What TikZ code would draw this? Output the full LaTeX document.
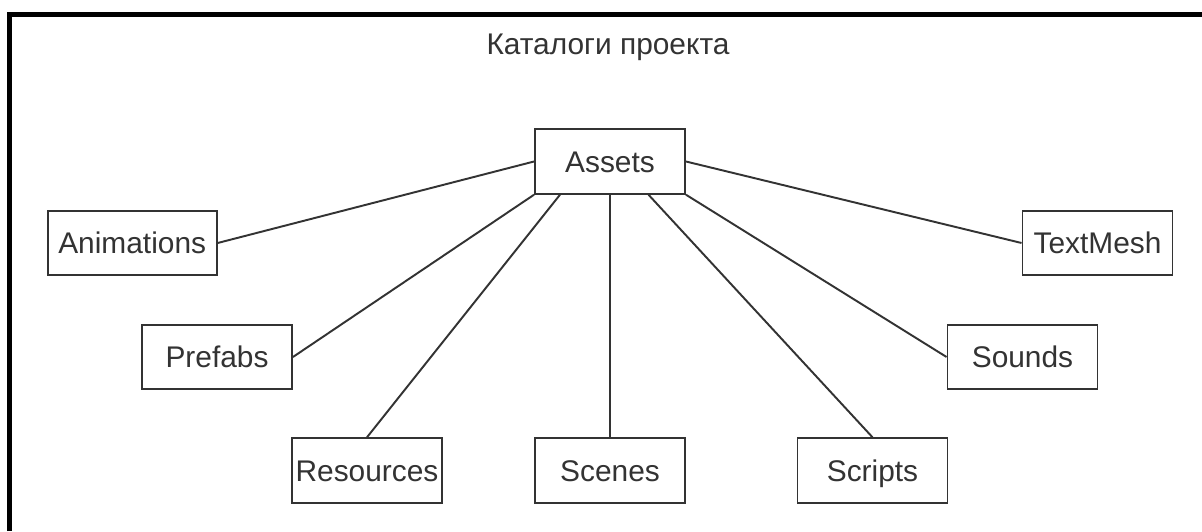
\documentclass[tikz,border=0pt]{standalone}
\usepackage{fontspec}
\setmainfont{Liberation Sans}
\usepackage[x11names, svgnames, rgb]{xcolor}
\usepackage{tikz}
\usetikzlibrary{positioning,shapes,arrows.meta}
\definecolor{mygray}{gray}{0.2}
\tikzstyle{folder}=[rectangle,fill=white,draw=mygray,line width=1.1pt,minimum width=3cm,minimum height=1.29cm,inner sep=0pt,text=mygray,text height=14pt,text depth=1.8pt,font=\fontsize{17}{20}\selectfont]
\tikzstyle{link}=[draw=mygray,line width=1.1pt]
\begin{document}
\begin{tikzpicture}
		\useasboundingbox (0,0) rectangle (24.04,10.62);
		% frame
		\draw[line width=2.6pt] (0.19,0) |- (24.04,10.33);

		% title
		\node[text=mygray,font=\fontsize{17}{20}\selectfont] (title) at (12.16,9.68) {Каталоги проекта};

		% nodes
		\node[folder] (assets) at (12.2,7.39) {Assets};
		\node[folder,minimum width=3.38cm] (animations) at (2.644,5.76) {Animations};
		\node[folder] (textmesh) at (21.95,5.76) {TextMesh};
		\node[folder] (prefabs) at (4.34,3.48) {Prefabs};
		\node[folder] (sounds) at (20.45,3.48) {Sounds};
		\node[folder] (resources) at (7.34,1.21) {Resources};
		\node[folder] (scenes) at (12.2,1.21) {Scenes};
		\node[folder] (scripts) at (17.45,1.21) {Scripts};

		% links
		\draw[link] (assets.west) -- (animations.east);
		\draw[link] (assets.south west) -- (prefabs.east);
		\draw[link] ([xshift=-1cm]assets.south) -- (resources.north);
		\draw[link] (assets.south) -- (scenes.north);
		\draw[link] ([xshift=0.77cm]assets.south) -- (scripts.north);
		\draw[link] (assets.south east) -- (sounds.west);
		\draw[link] (assets.east) -- (textmesh.west);
	\end{tikzpicture}
\end{document}
